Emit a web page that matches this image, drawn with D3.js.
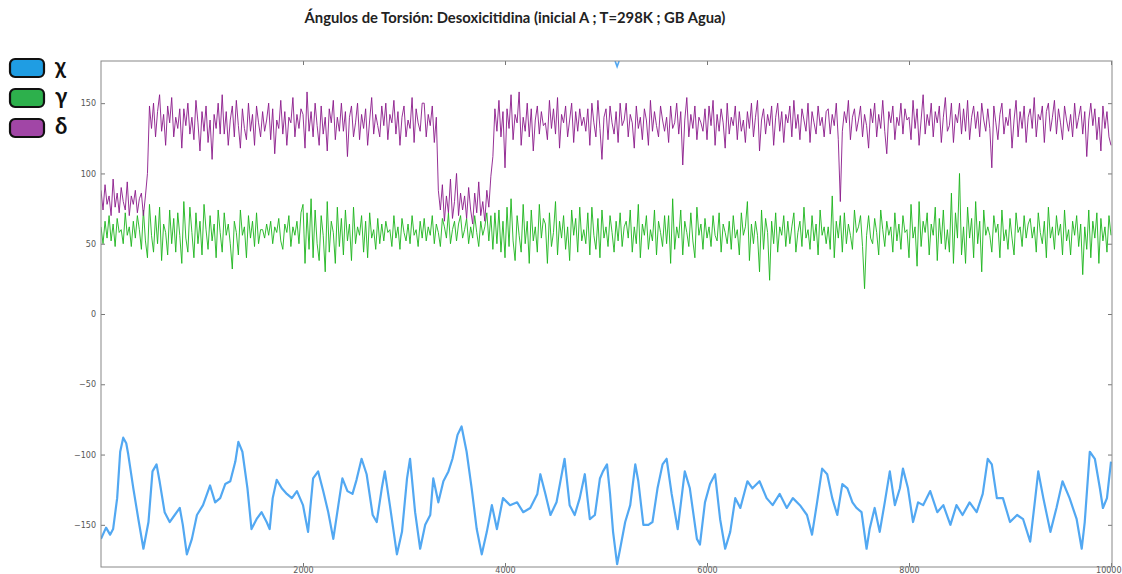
<!DOCTYPE html>
<html>
<head>
<meta charset="utf-8">
<style>
    body { margin: 0; background: #fff; }
    svg { display: block; }
    .tick text { font-family: 'DejaVu Sans', sans-serif; font-size: 8px; fill: #555; }
    .tick line { stroke: #777; }
</style>
</head>
<body>
<div id="chart"></div>
<script src="https://cdn.jsdelivr.net/npm/d3@7/dist/d3.min.js"></script>
<script>
// torsion angles sampled every 20 frames (gamma, delta)
var frameStep = 20;

var gamma = [
    62,50,66,54,70,52,64,48,68,58,60,50,72,56,62,48,66,54,70,60,
    46,74,52,40,78,56,44,70,50,76,38,64,58,42,74,50,68,44,72,56,
    36,80,54,44,76,58,40,72,50,66,42,78,60,46,70,52,64,40,74,58,
    44,72,56,64,50,32,66,58,42,74,56,62,40,70,54,66,48,72,50,60,
    60,54,64,56,66,50,62,58,68,52,46,64,58,70,48,62,56,66,50,72,
    78,36,72,46,82,40,74,50,38,70,56,30,80,44,66,58,36,76,48,68,
    42,74,52,64,38,76,50,62,56,70,44,66,40,72,54,60,46,68,50,64,
    52,66,58,60,48,70,54,62,46,68,58,52,64,50,70,56,60,48,66,54,
    68,52,62,56,70,50,64,58,48,68,62,54,72,50,60,66,52,64,70,54,
    60,68,50,62,54,70,58,48,66,56,62,72,52,70,46,72,50,74,44,66,
    40,76,48,82,52,38,70,56,44,78,50,66,36,74,52,62,44,78,54,68,
    64,36,72,48,58,80,42,66,54,70,46,62,38,74,56,68,44,76,52,60,
    50,72,42,76,56,46,68,40,74,54,62,48,70,58,44,66,52,72,48,62,
    66,54,74,44,62,50,78,40,64,56,70,46,60,52,74,42,66,58,48,70,
    50,70,36,82,46,62,54,74,42,66,58,48,72,52,40,76,56,64,46,68,
    54,62,48,70,56,52,72,44,64,58,50,66,46,70,54,60,42,72,56,62,
    80,38,64,50,66,56,30,74,46,68,58,24,66,50,72,44,62,56,70,48,
    66,50,62,72,44,58,66,48,76,54,60,46,70,52,64,42,74,56,62,50,
    62,46,84,40,66,54,70,44,72,50,64,56,46,74,58,62,70,48,18,56,
    70,54,50,68,58,42,74,60,48,66,56,62,44,72,52,64,46,70,58,60,
    40,78,54,62,34,80,48,66,58,72,42,64,56,76,38,68,50,74,46,60,
    44,86,36,72,54,100,42,62,36,76,54,68,40,80,50,66,30,74,56,62,
    56,44,70,58,64,40,74,52,60,46,68,54,42,72,58,62,48,70,54,64,
    68,54,62,44,72,58,50,66,40,76,54,62,46,70,56,64,42,74,52,60,
    42,66,56,70,48,64,28,62,46,74,40,66,54,72,36,68,52,62,44,70,
    56
];

var delta = [
    88,74,92,78,84,70,96,76,86,72,90,80,74,94,70,84,78,88,72,82,
    86,70,84,100,148,132,150,126,144,156,130,142,120,148,136,154,126,140,132,146,
    118,146,134,150,128,140,124,152,136,116,144,130,148,122,138,110,142,132,150,128,
    156,128,144,120,138,148,126,152,134,118,146,132,124,150,130,142,120,148,136,126,
    144,130,138,150,124,146,114,138,132,152,128,144,120,140,136,154,126,142,132,146,
    142,118,158,130,144,126,150,134,120,148,128,140,116,146,136,152,124,140,130,150,
    130,144,112,140,148,126,136,150,124,142,132,146,120,138,154,128,142,134,126,148,
    134,150,124,142,136,152,128,144,120,140,148,126,138,132,154,122,146,136,130,150,
    150,126,142,134,148,122,140,88,74,92,66,84,72,96,68,80,100,70,86,74,
    84,68,90,74,64,86,72,94,70,80,66,88,76,98,112,146,130,152,126,144,
    104,146,132,156,124,142,136,158,120,140,130,150,126,146,116,138,148,128,144,134,
    136,124,152,132,146,128,154,118,142,136,148,126,138,150,122,144,130,146,134,140,
    130,146,120,150,136,126,152,132,110,140,146,124,148,136,128,144,122,150,134,138,
    150,126,142,136,118,148,132,140,124,146,138,120,152,130,144,134,126,148,138,130,
    140,122,148,132,136,150,128,144,106,138,154,126,142,132,148,124,140,136,130,146,
    124,148,134,152,120,142,130,146,136,118,150,128,140,134,148,124,144,130,138,122,
    144,132,150,126,140,152,116,138,146,128,142,134,148,120,140,150,130,144,122,142,
    136,148,126,152,132,142,124,146,138,130,150,122,144,136,128,148,134,140,126,144,
    146,128,142,134,150,124,80,130,144,136,152,124,140,146,130,138,148,126,142,134,
    118,146,136,150,126,142,132,152,130,114,144,136,148,124,140,134,150,128,146,138,
    140,124,152,132,146,120,138,156,128,142,134,150,126,144,136,148,122,140,154,130,
    134,150,122,142,136,150,128,146,130,152,124,140,148,132,144,126,150,138,130,146,
    132,104,148,136,124,142,150,128,140,134,146,118,138,152,126,144,132,148,122,140,
    146,132,154,126,142,138,148,122,144,150,130,140,152,128,146,136,124,148,138,130,
    142,126,150,132,140,148,128,144,112,138,150,134,146,124,140,116,148,132,144,126,
    120
];

// chi: [frame, angle]
var chi = [
    [0,-160],[50,-152],[90,-157],[120,-153],[160,-131],[190,-98],[220,-88],[250,-92],[270,-100],[320,-124],
    [370,-146],[420,-167],[470,-148],[510,-112],[550,-107],[580,-119],[630,-141],[680,-148],[730,-143],[780,-138],
    [810,-150],[850,-171],[900,-160],[950,-143],[1010,-136],[1050,-128],[1080,-122],[1130,-134],[1180,-131],[1230,-121],
    [1280,-119],[1330,-105],[1360,-91],[1400,-98],[1450,-124],[1490,-153],[1540,-146],[1590,-141],[1640,-148],[1670,-153],
    [1700,-131],[1740,-118],[1790,-124],[1840,-128],[1890,-131],[1940,-126],[2000,-136],[2050,-155],[2100,-117],[2150,-112],
    [2200,-126],[2250,-141],[2300,-160],[2350,-136],[2390,-117],[2440,-126],[2490,-128],[2530,-118],[2580,-103],[2630,-114],
    [2690,-143],[2730,-148],[2780,-124],[2810,-112],[2860,-136],[2930,-171],[2980,-155],[3030,-117],[3060,-103],[3110,-141],
    [3160,-167],[3210,-150],[3260,-143],[3290,-117],[3340,-134],[3390,-119],[3440,-112],[3480,-103],[3530,-86],[3570,-80],
    [3620,-98],[3670,-124],[3720,-153],[3770,-171],[3820,-155],[3870,-136],[3920,-153],[3980,-131],[4050,-136],[4120,-134],
    [4180,-141],[4250,-138],[4320,-128],[4350,-114],[4400,-128],[4450,-143],[4510,-134],[4590,-103],[4640,-136],[4690,-143],
    [4740,-131],[4790,-114],[4840,-146],[4890,-143],[4940,-117],[4970,-112],[5010,-107],[5040,-128],[5070,-155],[5110,-178],
    [5140,-167],[5190,-148],[5240,-136],[5290,-107],[5320,-119],[5370,-150],[5420,-150],[5460,-148],[5510,-124],[5560,-107],
    [5600,-103],[5650,-128],[5710,-153],[5780,-112],[5830,-124],[5900,-160],[5930,-164],[5980,-134],[6030,-121],[6080,-114],
    [6130,-146],[6180,-167],[6230,-155],[6280,-131],[6330,-138],[6400,-119],[6450,-124],[6520,-119],[6590,-131],[6650,-136],
    [6720,-128],[6790,-138],[6850,-131],[6920,-136],[6990,-143],[7040,-157],[7090,-134],[7140,-110],[7190,-114],[7240,-131],
    [7290,-143],[7340,-121],[7390,-124],[7440,-134],[7480,-138],[7530,-141],[7580,-167],[7610,-153],[7660,-138],[7710,-155],
    [7760,-134],[7810,-112],[7860,-136],[7910,-124],[7940,-110],[7990,-124],[8040,-148],[8090,-134],[8140,-136],[8210,-126],
    [8280,-141],[8340,-136],[8410,-150],[8470,-136],[8530,-143],[8600,-134],[8670,-141],[8730,-128],[8780,-103],[8820,-107],
    [8870,-131],[8930,-131],[9000,-148],[9070,-143],[9130,-146],[9200,-162],[9250,-131],[9280,-112],[9330,-131],[9400,-155],
    [9460,-138],[9520,-119],[9590,-131],[9660,-146],[9710,-167],[9740,-148],[9790,-98],[9840,-103],[9890,-124],[9920,-138],
    [9960,-131],[10000,-105]
];
// small piece of chi that wrapped past -180 and shows at the top
var chiWrap = [[5090,180],[5110,176],[5130,180]];

var yTicks = [-150, -100, -50, 0, 50, 100, 150];
var xTicks = [2000, 4000, 6000, 8000, 10000];

var legendItems = [
    {label: 'χ', fill: '#1f9de3'},
    {label: 'γ', fill: '#2db04c'},
    {label: 'δ', fill: '#a146a6'}
];

var W = 1122, H = 574;
var plot = {left: 101, right: 1112, top: 61, bottom: 567};

var svg = d3.select('#chart').append('svg')
    .attr('width', W)
    .attr('height', H);

var x = d3.scaleLinear().domain([0, 10000]).range([plot.left, plot.right - 1]);
var y = d3.scaleLinear().domain([-180, 180]).range([plot.bottom, plot.top]);

svg.append('defs').append('clipPath').attr('id', 'clip')
    .append('rect')
    .attr('x', plot.left).attr('y', plot.top)
    .attr('width', plot.right - plot.left).attr('height', plot.bottom - plot.top);

// title
svg.append('text')
    .attr('x', 515)
    .attr('y', 23)
    .attr('text-anchor', 'middle')
    .attr('font-family', 'Lato, "Open Sans", sans-serif')
    .attr('font-weight', 'bold')
    .attr('font-size', 14.8)
    .attr('fill', '#222')
    .text('Ángulos de Torsión: Desoxicitidina (inicial A ; T=298K ; GB Agua)');

// series
var stepLine = d3.line()
    .x(function(d, i){ return x(i * frameStep); })
    .y(function(d){ return y(d); });

var pairLine = d3.line()
    .x(function(d){ return x(d[0]); })
    .y(function(d){ return y(d[1]); });

var g = svg.append('g').attr('clip-path', 'url(#clip)');

g.append('path')
    .datum(gamma)
    .attr('d', stepLine)
    .attr('fill', 'none')
    .attr('stroke', '#1cb41c')
    .attr('stroke-width', 0.9);

g.append('path')
    .datum(delta)
    .attr('d', stepLine)
    .attr('fill', 'none')
    .attr('stroke', '#8a1a8a')
    .attr('stroke-width', 0.9);

g.append('path')
    .datum(chi)
    .attr('d', pairLine)
    .attr('fill', 'none')
    .attr('stroke', '#52a8f2')
    .attr('stroke-width', 2.2)
    .attr('stroke-linejoin', 'round');

g.append('path')
    .datum(chiWrap)
    .attr('d', pairLine)
    .attr('fill', 'none')
    .attr('stroke', '#52a8f2')
    .attr('stroke-width', 1.6);

// axes
svg.append('g')
    .attr('transform', 'translate(' + plot.left + ',0)')
    .call(d3.axisLeft(y).tickValues(yTicks).tickSizeInner(-4).tickSizeOuter(0).tickPadding(5))
    .call(function(a){ a.select('.domain').remove(); });

svg.append('g')
    .attr('transform', 'translate(' + plot.right + ',0)')
    .call(d3.axisRight(y).tickValues(yTicks).tickSizeInner(-4).tickSizeOuter(0).tickFormat(''))
    .call(function(a){ a.select('.domain').remove(); });

svg.append('g')
    .attr('transform', 'translate(0,' + plot.bottom + ')')
    .call(d3.axisBottom(x).tickValues(xTicks).tickSizeInner(-4).tickSizeOuter(0).tickPadding(0).tickFormat(d3.format('d')))
    .call(function(a){
        a.select('.domain').remove();
        a.selectAll('.tick text').filter(function(d){ return d === 10000; })
            .attr('text-anchor', 'end').attr('x', W - 1 - x(10000));
    });

svg.append('g')
    .attr('transform', 'translate(0,' + plot.top + ')')
    .call(d3.axisTop(x).tickValues(xTicks).tickSizeInner(-4).tickSizeOuter(0).tickFormat(''))
    .call(function(a){ a.select('.domain').remove(); });

svg.append('rect')
    .attr('x', plot.left).attr('y', plot.top)
    .attr('width', plot.right - plot.left).attr('height', plot.bottom - plot.top)
    .attr('fill', 'none')
    .attr('stroke', '#888')
    .attr('stroke-width', 1);

// legend
var leg = svg.selectAll('g.legend')
    .data(legendItems)
    .enter().append('g')
    .attr('class', 'legend')
    .attr('transform', function(d, i){ return 'translate(10,' + (59 + i * 30) + ')'; });

leg.append('rect')
    .attr('width', 34).attr('height', 18)
    .attr('rx', 5)
    .attr('fill', function(d){ return d.fill; })
    .attr('stroke', '#111')
    .attr('stroke-width', 2.2);

leg.append('text')
    .attr('x', 45)
    .attr('y', 15)
    .attr('font-family', 'Lato, "Open Sans", sans-serif')
    .attr('font-weight', 'bold')
    .attr('font-size', 22)
    .attr('fill', '#111')
    .text(function(d){ return d.label; });
</script>
</body>
</html>
